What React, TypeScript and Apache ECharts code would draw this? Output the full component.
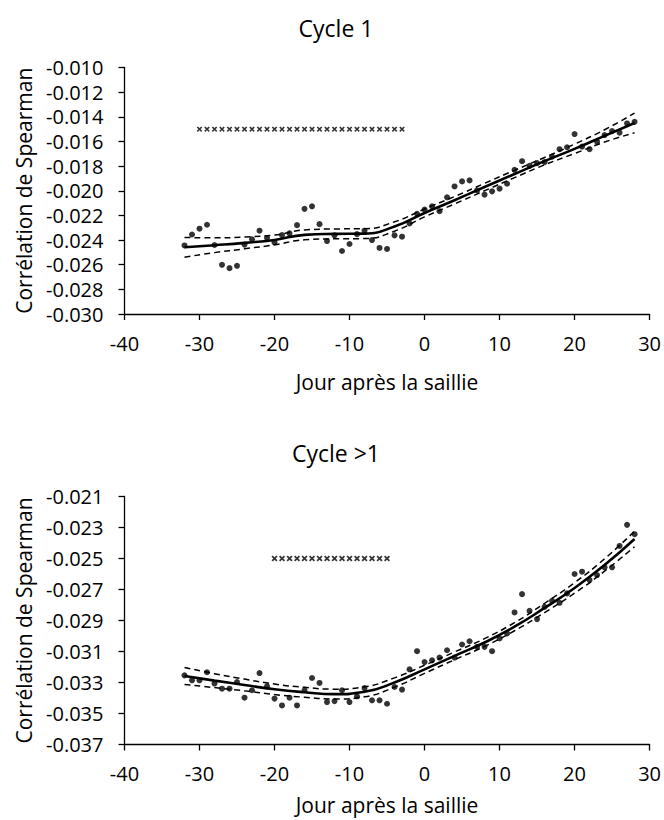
import React, { useEffect, useRef } from "react";
import * as echarts from "echarts";

// ---- Data ----
const DAYS = [
  -32, -31, -30, -29, -28, -27, -26, -25, -24, -23, -22, -21, -20, -19, -18, -17, -16, -15, -14, -13, -12,
  -11, -10, -9, -8, -7, -6, -5, -4, -3, -2, -1, 0, 1, 2, 3, 4, 5, 6, 7, 8, 9, 10, 11, 12, 13, 14, 15, 16,
  17, 18, 19, 20, 21, 22, 23, 24, 25, 26, 27, 28,
];

const CYCLE1_POINTS = [
  -0.02444, -0.02355, -0.02308, -0.02276, -0.0244, -0.02601, -0.02628, -0.02609, -0.02437, -0.02394,
  -0.02324, -0.02384, -0.02419, -0.0236, -0.02346, -0.02279, -0.02147, -0.02126, -0.02271, -0.02408,
  -0.02362, -0.02489, -0.02432, -0.02352, -0.02324, -0.024, -0.02464, -0.02472, -0.02362, -0.02373,
  -0.02265, -0.02187, -0.02153, -0.02126, -0.02166, -0.02053, -0.01965, -0.01924, -0.01916, -0.01997,
  -0.02032, -0.02005, -0.01983, -0.01943, -0.0183, -0.0176, -0.01798, -0.01776, -0.01768, -0.01723,
  -0.01663, -0.01647, -0.0154, -0.01642, -0.01663, -0.01602, -0.01548, -0.01516, -0.01529, -0.01454,
  -0.01441,
];

const CYCLE2_POINTS = [
  -0.03254, -0.03286, -0.03286, -0.03234, -0.03307, -0.0334, -0.0334, -0.03297, -0.03398, -0.0335,
  -0.03239, -0.03325, -0.03404, -0.03448, -0.03398, -0.03448, -0.0335, -0.03271, -0.03303, -0.03426,
  -0.0342, -0.0335, -0.03426, -0.03389, -0.03336, -0.03415, -0.03415, -0.03437, -0.03329, -0.03346,
  -0.03215, -0.03098, -0.03168, -0.03157, -0.03139, -0.03092, -0.03139, -0.03055, -0.03034, -0.0307,
  -0.0307, -0.03098, -0.03016, -0.02984, -0.02848, -0.0273, -0.02838, -0.02891, -0.02812, -0.02773,
  -0.02786, -0.02725, -0.026, -0.02585, -0.02639, -0.02607, -0.02557, -0.02557, -0.02419, -0.02283,
  -0.02343,
];

const FIT_DAYS = [-32, -28, -24, -20, -16, -12, -8, -4, 0, 4, 8, 12, 16, 20, 24, 28];

const CYCLE1_FIT = [
  -0.02459, -0.02442, -0.02423, -0.02399, -0.02358, -0.0235, -0.02348, -0.0229, -0.0218, -0.02077,
  -0.0197, -0.01864, -0.0176, -0.0166, -0.01555, -0.0145,
];
const CYCLE1_UPPER = [
  -0.02379, -0.02382, -0.02375, -0.02359, -0.02318, -0.0231, -0.02308, -0.02252, -0.02148, -0.02047,
  -0.0194, -0.01834, -0.0173, -0.01622, -0.01505, -0.0137,
];
const CYCLE1_LOWER = [
  -0.02539, -0.02502, -0.02471, -0.02439, -0.02398, -0.0239, -0.02388, -0.02328, -0.02212, -0.02107,
  -0.02, -0.01894, -0.0179, -0.01698, -0.01605, -0.0153,
];

const CYCLE2_FIT = [
  -0.03258, -0.03288, -0.03316, -0.03344, -0.03363, -0.03375, -0.0336, -0.033, -0.03215, -0.03128,
  -0.03042, -0.0294, -0.02819, -0.0269, -0.02542, -0.02374,
];
const CYCLE2_UPPER = [
  -0.03203, -0.03243, -0.03278, -0.0331, -0.03331, -0.03343, -0.03328, -0.0327, -0.03189, -0.03103,
  -0.03017, -0.02914, -0.02789, -0.02656, -0.02502, -0.02324,
];
const CYCLE2_LOWER = [
  -0.03313, -0.03333, -0.03354, -0.03378, -0.03395, -0.03407, -0.03392, -0.0333, -0.03241, -0.03153,
  -0.03067, -0.02966, -0.02849, -0.02724, -0.02582, -0.02424,
];

const CYCLE1_SIG_DAYS = [
  -30, -29, -28, -27, -26, -25, -24, -23, -22, -21, -20, -19, -18, -17, -16, -15, -14, -13, -12, -11,
  -10, -9, -8, -7, -6, -5, -4, -3,
];
const CYCLE1_SIG_LEVEL = -0.015;
const CYCLE2_SIG_DAYS = [-20, -19, -18, -17, -16, -15, -14, -13, -12, -11, -10, -9, -8, -7, -6, -5];
const CYCLE2_SIG_LEVEL = -0.025;

const X_TICKS = [-40, -30, -20, -10, 0, 10, 20, 30];
const Y1_TICKS = [-0.03, -0.028, -0.026, -0.024, -0.022, -0.02, -0.018, -0.016, -0.014, -0.012, -0.01];
const Y2_TICKS = [-0.037, -0.035, -0.033, -0.031, -0.029, -0.027, -0.025, -0.023, -0.021];

const TITLES = ["Cycle 1", "Cycle >1"];
const X_NAME = "Jour après la saillie";
const Y_NAME = "Corrélation de Spearman";

// ---- Styling ----
const FONT = "'Open Sans', sans-serif";
const CROSS = "path://M0,2L2,0L5,3L8,0L10,2L7,5L10,8L8,10L5,7L2,10L0,8L3,5Z";

const pairs = (xs: number[], ys: number[]) => xs.map((x, i) => [x, ys[i]]);

export default function App() {
  const ref = useRef<HTMLDivElement>(null);

  useEffect(() => {
    document.body.style.margin = "0";
    if (!ref.current) return;
    const chart = echarts.init(ref.current, null, { renderer: "svg" });

    const grids = [
      { left: 124.5, top: 67.5, width: 526, height: 246.5 },
      { left: 124.5, top: 496.5, width: 526, height: 248 },
    ];
    const nameGaps = [57, 50];

    const xAxis = [0, 1].map((i) => ({
      type: "value",
      gridIndex: i,
      min: X_TICKS[0],
      max: X_TICKS[X_TICKS.length - 1],
      interval: 10,
      axisLine: { onZero: false, lineStyle: { color: "#000", width: 1.3 } },
      axisTick: { show: true, length: 6, lineStyle: { color: "#000", width: 1.3 } },
      axisLabel: { margin: 19, color: "#000", fontSize: 20, fontFamily: FONT },
      splitLine: { show: false },
      name: X_NAME,
      nameLocation: "middle",
      nameGap: nameGaps[i],
      nameTextStyle: { color: "#000", fontSize: 21, fontFamily: FONT },
    }));

    const yCommon = {
      type: "value",
      axisLine: { show: true, onZero: false, lineStyle: { color: "#000", width: 1.3 } },
      axisLabel: {
        margin: 21,
        color: "#000",
        fontSize: 20,
        fontFamily: FONT,
        formatter: (v: number) => v.toFixed(3),
      },
      splitLine: { show: false },
      name: Y_NAME,
      nameLocation: "middle",
      nameGap: 90,
      nameTextStyle: { color: "#000", fontSize: 21, fontFamily: FONT },
    };

    const yAxis = [
      {
        ...yCommon,
        gridIndex: 0,
        min: Y1_TICKS[0],
        max: Y1_TICKS[Y1_TICKS.length - 1],
        interval: 0.002,
        axisTick: { show: true, length: 6, lineStyle: { color: "#000", width: 1.3 } },
      },
      {
        ...yCommon,
        gridIndex: 1,
        min: Y2_TICKS[0],
        max: Y2_TICKS[Y2_TICKS.length - 1],
        axisLabel: { ...yCommon.axisLabel, customValues: Y2_TICKS },
        axisTick: {
          show: true,
          length: 6,
          customValues: Y2_TICKS,
          lineStyle: { color: "#000", width: 1.3 },
        },
      },
    ];

    const makeSeries = (
      i: number,
      pts: number[],
      fit: number[],
      up: number[],
      lo: number[],
      sigDays: number[],
      sigLevel: number,
      sigSize: number
    ) => [
      {
        type: "scatter",
        xAxisIndex: i,
        yAxisIndex: i,
        data: pairs(DAYS, pts),
        symbol: "circle",
        symbolSize: 6,
        itemStyle: { color: "#000" },
        z: 3,
      },
      {
        type: "line",
        xAxisIndex: i,
        yAxisIndex: i,
        data: pairs(FIT_DAYS, fit),
        smooth: 0.5,
        showSymbol: false,
        lineStyle: { color: "#000", width: 2.6 },
        z: 4,
      },
      ...[up, lo].map((d) => ({
        type: "line",
        xAxisIndex: i,
        yAxisIndex: i,
        data: pairs(FIT_DAYS, d),
        smooth: 0.5,
        showSymbol: false,
        lineStyle: { color: "#000", width: 1.5, type: [6, 4] },
        z: 4,
      })),
      {
        type: "scatter",
        xAxisIndex: i,
        yAxisIndex: i,
        data: sigDays.map((d) => [d, sigLevel]),
        symbol: CROSS,
        symbolSize: sigSize,
        itemStyle: { color: "#000" },
        z: 3,
      },
    ];

    chart.setOption({
      animation: false,
      backgroundColor: "#fff",
      title: TITLES.map((t, i) => ({
        text: t,
        left: 336,
        top: i === 0 ? 16 : 441,
        padding: 0,
        textAlign: "center",
        textStyle: { color: "#000", fontSize: 23, fontWeight: "normal", fontFamily: FONT },
      })),
      grid: grids,
      xAxis,
      yAxis,
      series: [
        ...makeSeries(0, CYCLE1_POINTS, CYCLE1_FIT, CYCLE1_UPPER, CYCLE1_LOWER, CYCLE1_SIG_DAYS, CYCLE1_SIG_LEVEL, 5.5),
        ...makeSeries(1, CYCLE2_POINTS, CYCLE2_FIT, CYCLE2_UPPER, CYCLE2_LOWER, CYCLE2_SIG_DAYS, CYCLE2_SIG_LEVEL, 6),
      ],
    });

    return () => chart.dispose();
  }, []);

  return <div ref={ref} style={{ width: 664, height: 820 }} />;
}
